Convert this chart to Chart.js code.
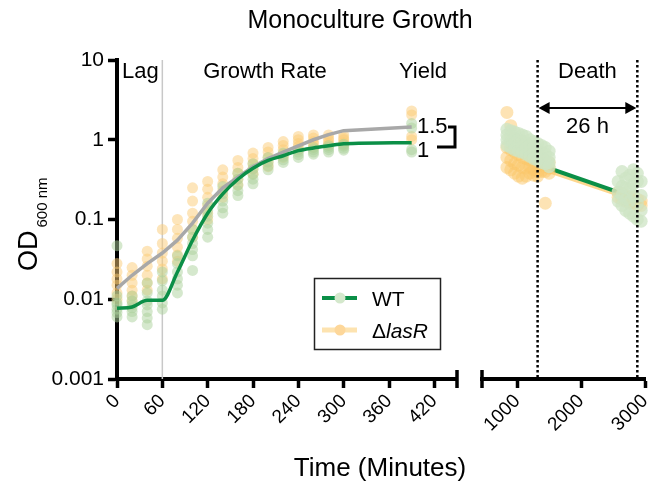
<!DOCTYPE html>
<html>
<head>
<meta charset="utf-8">
<script src="https://cdn.jsdelivr.net/npm/chart.js@4.4.1/dist/chart.umd.min.js"></script>
<style>
body{margin:0;background:#fff;overflow:hidden;}
#wrap{position:relative;width:648px;height:493px;overflow:hidden;}
canvas{position:absolute;left:0;top:0;}
</style>
</head>
<body>
<div id="wrap">
<canvas id="growth" width="648" height="493"></canvas>
<canvas id="death" width="665" height="493"></canvas>
</div>
<script>
const FONT = '"Liberation Sans", Arial, Helvetica, sans-serif';

// growth phase (minutes)
const growthTimes = [0,20,40,60,80,100,120,140,160,180,200,220,240,260,280,300,390];
const wtGrowthMean = [0.0077,0.008,0.0097,0.0097,0.022,0.055,0.12,0.21,0.32,0.44,0.55,0.63,0.73,0.79,0.84,0.89,0.92];
const lasRGrowthMean = [0.0137,0.02,0.028,0.038,0.055,0.09,0.16,0.25,0.34,0.46,0.58,0.7,0.84,1.0,1.16,1.3,1.45];
const wtGrowthReps = [
  [0.047,0.011,0.009,0.0085,0.0075,0.0068,0.006],
  [0.011,0.0095,0.0085,0.0078,0.007,0.006],
  [0.016,0.012,0.0095,0.0085,0.007,0.0058,0.0048],
  [0.022,0.017,0.013,0.011,0.009,0.0075],
  [0.035,0.028,0.022,0.018,0.015,0.012],
  [0.075,0.06,0.05,0.042,0.035,0.023],
  [0.16,0.13,0.11,0.09,0.075,0.06],
  [0.26,0.21,0.17,0.14,0.12],
  [0.38,0.32,0.27,0.23,0.2],
  [0.5,0.43,0.37,0.32,0.28],
  [0.6,0.53,0.47,0.42],
  [0.68,0.62,0.56,0.52],
  [0.75,0.7,0.65,0.6],
  [0.8,0.75,0.7,0.66],
  [0.85,0.8,0.75,0.7],
  [0.88,0.83,0.78,0.74],
  [1.6,1.4,0.75,0.7]
];
const lasRGrowthReps = [
  [0.028,0.022,0.018,0.015,0.012,0.01],
  [0.025,0.02,0.016,0.013,0.011,0.0095],
  [0.04,0.032,0.026,0.02,0.016,0.013],
  [0.075,0.05,0.038,0.03,0.024,0.018],
  [0.1,0.075,0.058,0.045,0.036,0.03],
  [0.25,0.17,0.12,0.095,0.075,0.06],
  [0.3,0.24,0.19,0.15,0.12,0.1],
  [0.42,0.34,0.28,0.23,0.19],
  [0.55,0.45,0.38,0.32,0.27],
  [0.68,0.58,0.5,0.43,0.37],
  [0.8,0.7,0.6,0.52,0.46],
  [0.95,0.85,0.75,0.66,0.6],
  [1.1,1.0,0.9,0.82,0.75],
  [1.15,1.05,0.95,0.88,0.8],
  [1.15,1.05,0.98,0.9,0.85],
  [1.15,1.05,1.0,0.92,0.86],
  [2.3,2.05,1.1,1.0]
];

// death phase (minutes)
const deathTimes = [840,900,960,1020,1080,1140,1200,1260,1320,1380,1440,1500,2580,2640,2700,2760,2820,2880,2940];
const wtDeathMean = [1.0,0.95,0.9,0.85,0.8,0.75,0.7,0.65,0.6,0.55,0.5,0.44,0.22,0.21,0.2,0.19,0.18,0.17,0.16];
const lasRDeathMean = [0.85,0.8,0.75,0.7,0.66,0.62,0.58,0.54,0.5,0.47,0.44,0.41,0.21,0.2,0.19,0.18,0.17,0.16,0.16];
const wtDeathReps = [
  [1.35,1.15,1.0,0.85],[1.3,1.1,0.95,0.8],[1.25,1.05,0.9,0.75],[1.2,1.0,0.85,0.72],
  [1.15,0.95,0.82,0.7],[1.1,0.9,0.78,0.66],[1.0,0.85,0.72,0.62],[0.95,0.8,0.68,0.58],
  [0.9,0.75,0.64,0.55],[0.85,0.7,0.6,0.52],[0.8,0.66,0.56,0.5],[0.72,0.6,0.52,0.46],
  [0.3,0.22,0.17],[0.4,0.26,0.2,0.15],[0.33,0.25,0.18,0.13],[0.36,0.24,0.17,0.12],
  [0.42,0.28,0.2,0.11],[0.38,0.3,0.16,0.1],[0.3,0.2,0.13,0.095]
];
const lasRDeathReps = [
  [2.2,0.8,0.6,0.45],[1.5,0.75,0.55,0.42],[0.9,0.7,0.5,0.38],[0.85,0.65,0.48,0.35],
  [0.8,0.6,0.45,0.33],[0.75,0.58,0.44,0.35],[0.7,0.55,0.45,0.38],[0.65,0.52,0.42,0.36],
  [0.6,0.5,0.4,0.35],[0.58,0.48,0.4],[0.55,0.46,0.4,0.16],[0.52,0.44,0.38],
  [0.22,0.19],[0.21,0.18],[0.2,0.17],[0.19,0.16],[0.19,0.16],[0.18,0.15],[0.17,0.15]
];

const growthTicks = [0,60,120,180,240,300,360,420];
const deathTicks = [1000,2000,3000];
const odTicks = [0.001,0.01,0.1,1,10];
const lagEnd = 60;
const deathWindow = [1320,2880];

const GREEN = '#0b8f47';
const GREEN_DOT = 'rgba(172,210,156,0.5)';
const ORANGE_DOT = 'rgba(252,204,118,0.5)';

function pts(times, reps){
  const out = [];
  times.forEach((t,i) => reps[i].forEach(v => out.push({x:t, y:v})));
  return out;
}
function line(times, vals){ return times.map((t,i) => ({x:t, y:vals[i]})); }

function xScale(min, max, ticks){
  return {
    type:'linear', min:min, max:max, z:1,
    afterBuildTicks: s => { s.ticks = ticks.map(v => ({value:v})); },
    afterFit: s => { s.height = 114; },
    ticks:{color:'#000', font:{family:FONT, size:19}, minRotation:45, maxRotation:45, autoSkip:false, padding:2, callback: v => String(v)},
    grid:{drawOnChartArea:false, tickLength:9, tickWidth:3.5, tickColor:'#000'},
    border:{color:'#000', width:4}
  };
}

function txt(ctx, s, x, y, size, align){
  ctx.font = size + 'px ' + FONT;
  ctx.textAlign = align || 'center';
  ctx.textBaseline = 'alphabetic';
  ctx.fillText(s, x, y);
}

const growthDecor = {
  id:'growthDecor',
  beforeDatasetsDraw(chart){
    const ctx = chart.ctx, a = chart.chartArea;
    const x = chart.scales.x.getPixelForValue(lagEnd);
    ctx.save();
    ctx.strokeStyle = '#c8c8c8'; ctx.lineWidth = 1.5;
    ctx.beginPath(); ctx.moveTo(x, a.top); ctx.lineTo(x, a.bottom); ctx.stroke();
    ctx.restore();
  },
  afterDraw(chart){
    const ctx = chart.ctx, a = chart.chartArea;
    ctx.save();
    ctx.fillStyle = '#000';
    txt(ctx, 'Monoculture Growth', 360, 28, 25);
    txt(ctx, 'Lag', 122, 78, 22, 'left');
    txt(ctx, 'Growth Rate', 265, 78, 22);
    txt(ctx, 'Yield', 423, 78, 22);
    txt(ctx, '1.5', 417, 133, 22, 'left');
    txt(ctx, '1', 417, 157, 22, 'left');
    txt(ctx, 'Time (Minutes)', 380, 476, 26);
    // bracket
    ctx.strokeStyle = '#000'; ctx.lineWidth = 3;
    ctx.beginPath(); ctx.moveTo(448, 127); ctx.lineTo(455, 127); ctx.lineTo(455, 147); ctx.lineTo(437, 147); ctx.stroke();
    // axis end cap
    ctx.lineWidth = 3.5;
    ctx.beginPath(); ctx.moveTo(a.right, a.bottom - 9); ctx.lineTo(a.right, a.bottom + 9); ctx.stroke();
    // y title
    ctx.save();
    ctx.translate(37, 271); ctx.rotate(-Math.PI/2);
    ctx.font = '27px ' + FONT; ctx.textAlign = 'left';
    ctx.fillText('OD', 0, 0);
    const w = ctx.measureText('OD').width;
    ctx.font = '15px ' + FONT;
    ctx.fillText('600 nm', w + 3, 10);
    ctx.restore();
    // legend
    ctx.lineWidth = 1.5; ctx.strokeStyle = '#222';
    ctx.strokeRect(314.5, 278.5, 126, 71);
    ctx.lineCap = 'butt';
    ctx.strokeStyle = GREEN; ctx.lineWidth = 4;
    ctx.beginPath(); ctx.moveTo(322, 298); ctx.lineTo(357, 298); ctx.stroke();
    ctx.fillStyle = '#d4e8cc';
    ctx.beginPath(); ctx.arc(340, 298, 5.5, 0, Math.PI*2); ctx.fill();
    ctx.strokeStyle = '#fde3b0'; ctx.lineWidth = 5;
    ctx.beginPath(); ctx.moveTo(322, 330); ctx.lineTo(357, 330); ctx.stroke();
    ctx.fillStyle = '#fdd79a';
    ctx.beginPath(); ctx.arc(340, 330, 5.5, 0, Math.PI*2); ctx.fill();
    ctx.fillStyle = '#000';
    txt(ctx, 'WT', 372, 306, 21, 'left');
    txt(ctx, '\u0394', 372, 338, 21, 'left');
    const dw = ctx.measureText('\u0394').width;
    ctx.font = 'italic 21px ' + FONT;
    ctx.fillText('lasR', 372 + dw, 338);
    ctx.restore();
  }
};

const deathDecor = {
  id:'deathDecor',
  afterDraw(chart){
    const ctx = chart.ctx, a = chart.chartArea, xs = chart.scales.x;
    const x1 = xs.getPixelForValue(deathWindow[0]), x2 = xs.getPixelForValue(deathWindow[1]);
    ctx.save();
    ctx.strokeStyle = '#000'; ctx.lineWidth = 2.5;
    ctx.setLineDash([2.5, 2.5]);
    [x1, x2].forEach(x => { ctx.beginPath(); ctx.moveTo(x, a.top); ctx.lineTo(x, a.bottom); ctx.stroke(); });
    ctx.setLineDash([]);
    // double arrow
    const y = 108;
    ctx.lineWidth = 2;
    ctx.beginPath(); ctx.moveTo(x1 + 8, y); ctx.lineTo(x2 - 8, y); ctx.stroke();
    ctx.fillStyle = '#000';
    ctx.beginPath(); ctx.moveTo(x1 + 1, y); ctx.lineTo(x1 + 12, y - 6); ctx.lineTo(x1 + 12, y + 6); ctx.closePath(); ctx.fill();
    ctx.beginPath(); ctx.moveTo(x2 - 1, y); ctx.lineTo(x2 - 12, y - 6); ctx.lineTo(x2 - 12, y + 6); ctx.closePath(); ctx.fill();
    txt(ctx, 'Death', (x1 + x2) / 2, 78, 22);
    txt(ctx, '26 h', (x1 + x2) / 2, 133, 22);
    // axis start cap
    ctx.lineWidth = 3.5;
    ctx.beginPath(); ctx.moveTo(a.left, a.bottom - 9); ctx.lineTo(a.left, a.bottom + 9); ctx.stroke();
    ctx.restore();
  }
};

const common = {
  responsive:false, animation:false, events:[],
  plugins:{legend:{display:false}, tooltip:{enabled:false}}
};

new Chart(document.getElementById('growth'), {
  type:'scatter',
  data:{datasets:[
    {data: line(growthTimes, wtGrowthMean), showLine:true, borderColor:GREEN, borderWidth:3.5, pointRadius:0, cubicInterpolationMode:'monotone', clip:false},
    {data: line(growthTimes, lasRGrowthMean), showLine:true, borderColor:'#a8a8a8', borderWidth:3.5, pointRadius:0, tension:0, clip:false},
    {data: pts(growthTimes, wtGrowthReps), backgroundColor:GREEN_DOT, borderWidth:0, pointRadius:5.5, clip:false},
    {data: pts(growthTimes, lasRGrowthReps), backgroundColor:ORANGE_DOT, borderWidth:0, pointRadius:5.5, clip:false}
  ]},
  options:Object.assign({}, common, {
    layout:{padding:{left:0, right:191, top:60, bottom:0}},
    scales:{
      x: xScale(0, 450, growthTicks),
      y:{
        type:'logarithmic', min:0.001, max:10, z:1,
        afterBuildTicks: s => { s.ticks = odTicks.map(v => ({value:v})); },
        afterFit: s => { s.width = 117; },
        ticks:{color:'#000', font:{family:FONT, size:21}, padding:4, callback: v => String(v)},
        grid:{drawOnChartArea:false, tickLength:9, tickWidth:3.5, tickColor:'#000'},
        border:{color:'#000', width:4}
      }
    }
  }),
  plugins:[growthDecor]
});

// canvas is 665 wide (clipped at 648) so a fixed 20px right padding puts the axis end at x=645
new Chart(document.getElementById('death'), {
  type:'scatter',
  data:{datasets:[
    {data: pts(deathTimes, wtDeathReps), backgroundColor:'rgba(205,228,196,0.75)', borderWidth:0, pointRadius:6.5, clip:false},
    {data: pts(deathTimes, lasRDeathReps), backgroundColor:'rgba(252,200,105,0.5)', borderWidth:0, pointRadius:6.5, clip:false},
    {data: line(deathTimes, wtDeathMean), showLine:true, borderColor:GREEN, borderWidth:4, pointRadius:0, clip:false},
    {data: line(deathTimes, lasRDeathMean), showLine:true, borderColor:'#fdd78e', borderWidth:5, pointRadius:0, clip:false}
  ]},
  options:Object.assign({}, common, {
    layout:{padding:{left:482, right:20, top:60, bottom:0}},
    scales:{
      x: xScale(450, 3000, deathTicks),
      y:{type:'logarithmic', min:0.001, max:10, display:false}
    }
  }),
  plugins:[deathDecor]
});
</script>
</body>
</html>
